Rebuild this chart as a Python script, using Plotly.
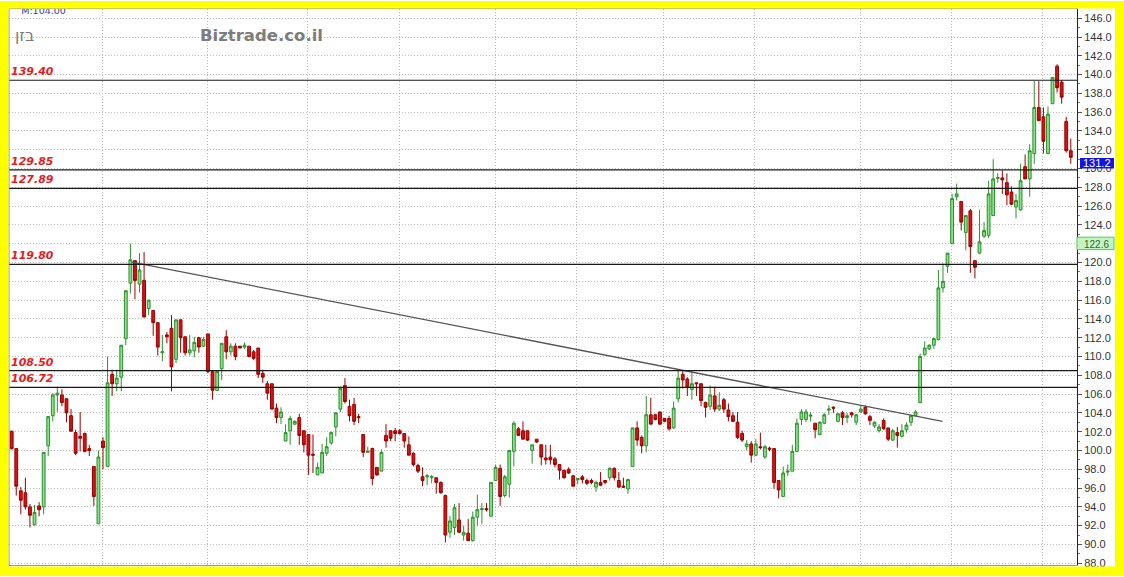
import plotly.graph_objects as go

# ---------------- data ----------------
opens = [102.05,100.2,95.7,95.5,94.0,92.1,94.1,94.0,100.5,103.7,
         105.9,105.9,105.5,103.7,101.9,101.5,101.8,100.2,98.3,92.2,
         101.0,98.3,108.1,107.1,107.8,111.9,117.8,120.2,117.7,118.1,
         115.1,114.9,113.6,110.4,112.3,113.0,109.7,113.9,112.1,110.4,
         110.6,112.0,111.1,112.4,108.4,106.4,108.7,112.1,110.5,111.1,
         111.1,111.0,111.1,110.5,110.9,108.2,107.1,107.1,104.5,103.5,
         101.0,102.1,102.8,103.5,102.1,101.7,99.6,97.4,97.6,99.7,
         100.8,102.5,104.4,106.9,104.7,104.9,103.6,101.7,99.8,100.2,
         98.2,97.8,101.6,102.1,102.1,102.1,101.8,100.6,99.7,98.4,
         97.2,97.2,97.1,97.1,96.6,95.2,91.3,91.8,92.6,91.0,
         91.2,90.4,92.9,93.7,93.8,93.0,96.8,98.1,95.2,96.4,
         99.9,102.3,102.1,102.1,100.0,101.2,100.6,99.2,99.3,99.1,
         98.5,97.9,98.0,97.3,96.9,97.2,96.8,96.8,96.1,96.6,
         96.8,97.1,98.1,96.8,96.2,95.9,98.3,102.4,101.4,100.5,
         103.8,103.8,104.1,103.4,103.4,102.4,105.5,108.1,107.6,106.5,
         107.2,107.1,105.1,104.7,105.8,104.4,105.4,104.3,103.7,103.0,
         101.8,100.4,100.7,99.5,100.4,99.3,100.25,100.2,96.8,95.1,
         97.7,97.8,99.9,103.3,103.3,103.65,102.9,101.7,102.9,104.3,
         104.6,103.1,104.0,103.5,104.0,103.0,104.1,104.6,103.6,102.6,
         102.1,103.2,102.4,101.1,101.9,101.5,102.2,103.0,103.7,105.1,
         110.2,110.8,111.2,111.8,117.3,119.6,122.0,127.0,126.5,123.2,
         125.5,120.2,121.0,122.8,122.9,125.0,128.95,129.0,128.5,127.5,
         125.9,125.6,130.2,128.9,131.6,136.5,135.5,131.6,136.9,140.9,
         139.2,135.0,131.9]
closes = [100.2,96.2,94.7,94.0,93.1,93.4,93.7,99.8,103.6,105.9,
          106.1,105.1,104.0,102.05,99.7,101.3,99.9,100.0,95.1,99.3,
          100.3,107.2,107.1,107.7,111.2,117.0,120.3,118.1,119.2,114.2,
          116.0,113.6,111.0,110.5,112.1,108.9,113.9,112.0,110.4,110.7,
          111.5,111.0,111.8,108.4,106.4,108.4,111.4,110.5,111.1,110.0,
          110.9,111.2,110.0,109.8,108.1,107.8,106.1,104.4,103.5,104.1,
          101.9,103.4,103.1,101.6,100.6,99.5,99.5,98.2,99.8,100.4,
          101.9,104.0,106.6,105.2,103.7,103.1,103.5,99.8,99.9,97.0,
          97.4,99.8,101.0,101.3,101.8,101.8,101.0,99.5,98.5,97.8,
          96.8,97.3,97.2,96.6,95.5,91.0,92.5,93.9,91.3,91.3,
          90.4,92.9,93.7,93.8,93.7,96.6,98.2,95.1,97.2,100.0,
          102.9,101.6,101.2,101.1,100.6,100.9,99.3,99.0,99.0,98.5,
          97.9,97.1,97.6,96.2,97.0,96.9,96.5,96.6,96.6,96.3,
          96.6,98.1,97.1,96.1,96.1,96.9,102.4,101.1,100.5,103.8,
          102.8,103.3,102.8,103.1,102.3,104.5,107.7,107.5,106.7,107.1,
          107.1,105.3,104.6,105.9,104.4,104.8,104.4,103.6,103.1,101.4,
          101.1,100.7,99.5,100.7,100.3,100.4,100.15,96.6,95.8,97.6,
          97.8,99.9,102.9,104.1,104.1,103.75,102.2,103.0,103.8,104.4,
          104.5,103.9,103.5,103.7,103.8,103.8,104.4,103.9,103.2,103.0,
          102.5,102.3,101.2,102.1,101.6,102.1,102.7,103.7,104.1,110.0,
          110.9,111.2,111.9,117.3,118.0,121.0,126.8,127.3,124.3,125.0,
          121.7,119.5,122.2,123.4,127.3,128.9,129.05,128.8,127.2,126.2,
          126.6,128.7,128.9,131.9,136.5,135.1,132.9,135.8,139.7,138.6,
          137.6,131.9,131.2]
highs = [102.1,100.2,96.1,97.1,94.3,94.2,94.5,99.8,103.6,106.1,
         106.8,106.5,105.5,104.4,102.2,104.1,101.9,100.6,98.3,100.0,
         101.4,110.0,108.6,108.6,111.2,117.0,122.0,120.2,121.0,121.1,
         116.0,114.9,113.6,112.3,112.6,114.4,113.9,113.9,112.1,112.3,
         112.1,112.1,112.1,112.4,108.4,108.4,111.4,112.8,111.4,111.4,
         111.1,111.5,111.1,110.7,110.9,108.6,107.4,107.1,105.0,104.6,
         102.8,103.7,103.2,103.9,102.1,101.7,101.7,98.7,100.7,101.4,
         102.0,104.1,106.8,107.7,105.4,105.6,103.9,101.7,100.4,100.3,
         98.2,100.1,102.8,102.1,102.4,102.3,101.8,101.5,99.8,98.6,
         98.2,97.5,97.4,97.1,96.7,95.3,93.0,94.3,94.4,92.0,
         92.7,93.5,95.3,94.4,94.4,96.6,98.5,98.5,97.4,100.0,
         103.1,102.5,103.1,102.1,100.6,101.2,100.6,100.6,100.6,99.3,
         98.5,97.9,98.2,97.4,97.0,97.4,97.0,97.0,96.8,97.7,
         96.8,98.2,98.2,97.7,97.1,97.0,102.4,103.1,101.6,105.8,
         105.6,103.9,104.1,103.4,103.7,105.2,108.5,108.5,107.8,108.5,
         107.2,107.1,105.2,106.9,106.8,106.2,105.6,105.0,104.1,104.1,
         102.1,101.1,101.0,101.2,101.9,100.6,100.4,100.2,96.8,98.3,
         98.5,100.6,103.4,104.4,104.4,104.1,102.9,103.1,104.0,104.8,
         104.7,104.0,104.2,104.0,104.1,103.9,104.8,104.8,103.8,103.1,
         102.8,103.4,102.4,102.3,102.5,102.8,103.0,103.8,104.3,110.3,
         111.6,111.3,112.0,119.2,119.9,121.0,127.3,128.4,126.5,125.0,
         125.7,120.2,125.6,124.3,128.7,131.0,129.5,129.8,129.5,128.1,
         127.3,130.5,131.5,132.6,139.3,139.3,136.5,136.6,139.7,141.1,
         139.4,135.5,133.2]
lows = [100.1,95.2,93.2,93.7,91.8,92.0,93.0,93.2,99.4,103.1,
        104.1,104.7,103.0,102.0,99.5,99.9,99.8,99.4,94.1,92.2,
        98.0,98.3,105.8,106.3,106.3,111.2,116.7,116.1,116.8,114.2,
        114.4,112.2,110.1,109.5,111.4,106.3,109.3,110.4,110.1,110.1,
        109.9,110.4,111.0,108.2,105.4,106.3,107.5,109.7,110.1,109.6,
        110.9,110.8,109.9,109.6,107.7,107.2,105.4,104.4,102.9,102.8,
        101.0,100.6,102.7,100.6,99.8,97.4,97.6,97.4,97.6,99.4,
        100.6,101.5,104.1,105.0,103.1,102.7,102.9,99.3,99.8,96.3,
        97.3,97.8,100.3,101.0,101.0,101.7,100.3,99.5,98.3,97.6,
        96.2,96.3,96.5,95.4,95.4,90.2,90.7,91.0,91.2,90.4,
        90.4,90.3,92.0,92.2,93.5,93.0,96.8,94.1,95.0,95.0,
        98.3,101.6,101.2,101.0,98.6,100.8,98.4,98.5,98.5,98.2,
        96.9,97.0,97.5,96.2,96.4,96.5,96.3,96.4,95.6,96.2,
        96.4,96.8,96.8,96.0,96.0,95.4,98.3,100.5,99.7,99.8,
        102.8,103.2,102.7,103.0,102.1,102.3,105.1,106.6,105.8,105.4,
        105.8,104.7,103.5,104.3,104.1,104.2,104.0,103.1,103.0,101.2,
        100.9,100.0,98.7,99.4,100.1,99.1,99.9,95.9,94.9,95.1,
        97.3,97.8,99.9,102.7,103.0,103.1,101.3,101.6,102.8,103.8,
        104.0,103.0,102.7,102.9,103.5,102.7,104.0,103.8,102.7,102.4,
        101.9,102.2,101.0,101.0,100.3,101.4,101.9,102.6,103.7,105.0,
        110.1,110.7,110.8,111.7,116.8,118.9,122.0,126.6,123.4,121.3,
        118.9,118.3,120.9,122.6,122.6,125.0,128.5,127.3,126.1,126.1,
        124.7,125.5,128.9,127.0,130.5,135.1,131.6,131.6,136.9,138.1,
        136.9,131.7,130.5]
days = list(range(len(closes)))

# horizontal support / resistance levels
levels = [139.40, 129.85, 127.89, 119.80, 108.50, 106.72]
# trend line end points (day index, price)
trend_x = [26.3, 203.9]
trend_y = [120.05, 103.1]
# month boundaries (day index) for vertical grid
month_ticks = [19.85, 42.9, 64.75, 84.85, 105.9, 123.8, 142.75, 162.8, 186.0, 205.9, 225.8]
y_ticks = list(range(88, 147, 2))
last_price = 131.2
other_price = 122.6
title_he = "בזן"
site = "Biztrade.co.il"
m_label = "M:104.00"

# ---------------- figure ----------------
W, H = 1124, 577
ML, MR, MT, MB = 9, 47, 8, 11
PW, PH = W - ML - MR, H - MT - MB


def px(x):
    return (x - ML) / PW


def py(y):
    return (H - MB - y) / PH


fig = go.Figure()

fig.add_trace(go.Candlestick(
    x=days, open=opens, high=highs, low=lows, close=closes,
    increasing=dict(line=dict(color="#2f8f2f", width=1), fillcolor="#86e286"),
    decreasing=dict(line=dict(color="#9a0000", width=1), fillcolor="#d41414"),
    whiskerwidth=0, showlegend=False, hoverinfo="skip"))

fig.add_trace(go.Scatter(
    x=trend_x, y=trend_y, mode="lines",
    line=dict(color="#555555", width=1.3), showlegend=False, hoverinfo="skip"))

fig.add_trace(go.Scatter(
    x=[6.97], y=[146.75], mode="text", text=[m_label],
    textfont=dict(family="DejaVu Sans", size=9.5, color="#3535c8"),
    textposition="middle center", cliponaxis=True,
    showlegend=False, hoverinfo="skip"))

shapes = []
for lv in levels:
    shapes.append(dict(type="line", xref="paper", yref="y", x0=0, x1=1,
                       y0=lv, y1=lv, line=dict(color="#1a1a1a", width=1.2)))
# left frame line
shapes.append(dict(type="line", xref="paper", yref="paper", x0=0, x1=0, y0=0, y1=1,
                   line=dict(color="#8c8c8c", width=1)))
# price boxes on the axis
shapes.append(dict(type="rect", xref="paper", yref="paper",
                   x0=px(1080), x1=px(1114), y0=py(168), y1=py(157.5),
                   fillcolor="#1414e6", line=dict(width=0), layer="above"))
shapes.append(dict(type="rect", xref="paper", yref="paper",
                   x0=px(1077), x1=px(1114), y0=py(249.5), y1=py(237),
                   fillcolor="#c2f5c2", line=dict(color="#5fbf5f", width=1), layer="above"))
# yellow frame
Y = "#ffff00"
for (x0, y0, x1, y1) in [(0, 0, 8.5, H), (0, 0, W, 7.5), (1115, 0, W, H), (0, 567.5, W, H)]:
    shapes.append(dict(type="rect", xref="paper", yref="paper",
                       x0=px(x0), x1=px(x1), y0=py(y1), y1=py(y0),
                       fillcolor=Y, line=dict(width=0), layer="above"))

annotations = []
for lv in levels:
    annotations.append(dict(
        xref="paper", yref="y", x=0, y=lv, xanchor="left", yanchor="bottom",
        text=f"{lv:.2f}", showarrow=False, yshift=0,
        font=dict(family="DejaVu Sans", size=11, color="#e31b23", weight="bold", style="italic")))
annotations.append(dict(xref="paper", yref="paper", x=px(1097), y=py(163),
                        text=f"{last_price:.1f}", showarrow=False,
                        xanchor="center", yanchor="middle",
                        font=dict(family="Liberation Sans", size=11, color="white")))
annotations.append(dict(xref="paper", yref="paper", x=px(1096), y=py(244),
                        text=f"{other_price:.1f}", showarrow=False,
                        xanchor="center", yanchor="middle",
                        font=dict(family="Liberation Sans", size=10, color="#336633")))
annotations.append(dict(xref="paper", yref="paper", x=px(24.5), y=py(35),
                        text=title_he, showarrow=False,
                        xanchor="center", yanchor="middle",
                        font=dict(family="DejaVu Sans", size=16, color="#7a7a7a")))
annotations.append(dict(xref="paper", yref="paper", x=px(261), y=py(35),
                        text=site, showarrow=False,
                        xanchor="center", yanchor="middle",
                        font=dict(family="DejaVu Sans", size=16.5, color="#7d7d7d", weight="bold")))

# the 122 label sits under the green price box and is not visible in the reference
tick_text = ["" if v == 122 else f"{v:.1f}" for v in y_ticks]

fig.update_layout(
    width=W, height=H,
    margin=dict(l=ML, r=MR, t=MT, b=MB, pad=0),
    paper_bgcolor="white", plot_bgcolor="white",
    showlegend=False, boxgap=0.12,
    shapes=shapes, annotations=annotations,
    xaxis=dict(range=[-0.59, 233.36], rangeslider=dict(visible=False),
               tickmode="array", tickvals=month_ticks, showticklabels=False,
               ticks="", showgrid=True, gridcolor="#b8b8b8", griddash="1px,2px",
               gridwidth=1, zeroline=False, showline=True, linecolor="#9a9a9a",
               mirror=True),
    yaxis=dict(range=[87.81, 146.98], side="right", tickmode="array",
               tickvals=y_ticks, ticktext=tick_text,
               ticks="outside", ticklen=4, tickcolor="#555555",
               showgrid=True, gridcolor="#bdbdbd", griddash="1px,2px", gridwidth=1,
               zeroline=False, showline=True, linecolor="#222222",
               tickfont=dict(family="Liberation Sans", size=11, color="#333333"),
               minor=dict(dtick=1, tick0=87, ticks="outside", ticklen=2,
                          tickcolor="#777777", showgrid=False)),
)

fig.write_html("out.html", config={"displayModeBar": False},
               post_script="document.body.style.margin='0';document.body.style.padding='0';document.body.style.overflow='hidden';")
